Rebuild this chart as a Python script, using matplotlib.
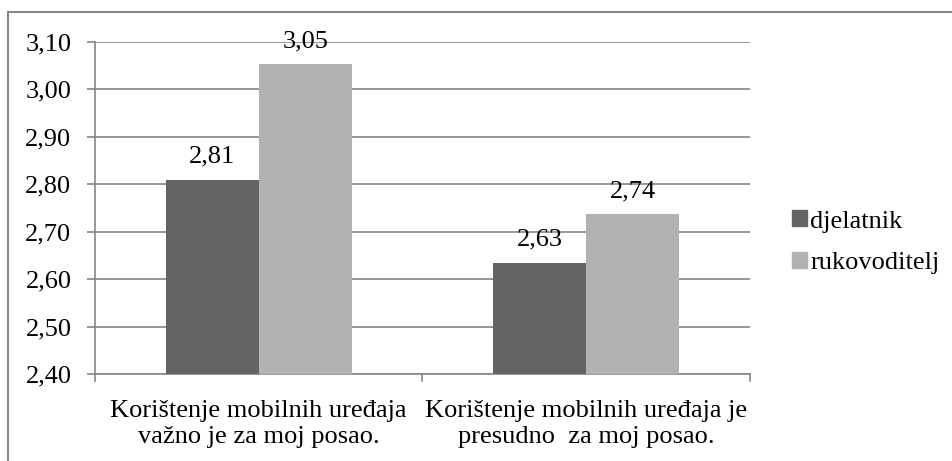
import numpy as np
import matplotlib.pyplot as plt
from matplotlib.patches import Rectangle, Patch

categories = ["Korištenje mobilnih uređaja\nvažno je za moj posao.",
              "Korištenje mobilnih uređaja je\npresudno  za moj posao."]
series_names = ["djelatnik", "rukovoditelj"]
djelatnik = [2.81, 2.634]
rukovoditelj = [3.053, 2.737]
labels_djel = ["2,81", "2,63"]
labels_ruk = ["3,05", "2,74"]
yticks = [2.40, 2.50, 2.60, 2.70, 2.80, 2.90, 3.00, 3.10]

plt.rcParams['font.family'] = ['Liberation Serif', 'DejaVu Serif']
fs = 19

dark = '#646464'
light = '#b2b2b2'
axis_col = '#868686'

fig = plt.figure(figsize=(9.53, 4.61), dpi=100)
ax = fig.add_axes([95 / 953, 1 - 374 / 461, (750 - 95) / 953, (374 - 42) / 461])

x = np.arange(len(categories))
w = 0.284
ax.bar(x - w / 2, np.array(djelatnik) - 2.4, w, bottom=2.4, color=dark, zorder=3)
ax.bar(x + w / 2, np.array(rukovoditelj) - 2.4, w, bottom=2.4, color=light, zorder=3)

# value labels, baseline ~17px above bar top
for xs, vals, texts in [(x - w / 2, djelatnik, labels_djel), (x + w / 2, rukovoditelj, labels_ruk)]:
    for xi, v, t in zip(xs, vals, texts):
        ax.annotate(t, (xi, v), xytext=(0, 12.3), textcoords='offset points',
                    ha='center', va='baseline', fontsize=fs, zorder=4)

ax.set_xlim(-0.5, 1.5)
ax.set_ylim(2.4, 3.1)
ax.set_yticks(yticks)
ax.set_yticklabels([f"{v:.2f}".replace('.', ',') for v in yticks], fontsize=fs)
ax.yaxis.grid(True, color=axis_col, linewidth=1.2, zorder=0)
ax.tick_params(axis='y', length=6, color=axis_col, width=1.2, pad=11)

ax.set_xticks(x)
ax.set_xticklabels(categories, fontsize=fs, linespacing=1.22)
ax.tick_params(axis='x', length=0, pad=19)
for xb in [-0.5, 0.5, 1.5]:
    ax.plot([xb, xb], [0, -0.022], transform=ax.get_xaxis_transform(),
            color=axis_col, linewidth=1.2, clip_on=False)

for side in ['top', 'right']:
    ax.spines[side].set_visible(False)
ax.spines['left'].set_color(axis_col)
ax.spines['left'].set_linewidth(1.2)
ax.spines['bottom'].set_color(axis_col)
ax.spines['bottom'].set_linewidth(1.2)

handles = [Patch(color=dark), Patch(color=light)]
fig.legend(handles, series_names, loc='center left', bbox_to_anchor=(792 / 953, 1 - 242 / 461),
           frameon=False, fontsize=fs, handlelength=0.57, handleheight=0.57,
           handletextpad=0.12, labelspacing=0.72, borderpad=0, borderaxespad=0)

fig.patches.append(Rectangle((8 / 953, -0.1), 1.2, 1.1 - 12 / 461, transform=fig.transFigure,
                             fill=False, edgecolor=axis_col, linewidth=1.5))

fig.savefig('out.png', dpi=100)
